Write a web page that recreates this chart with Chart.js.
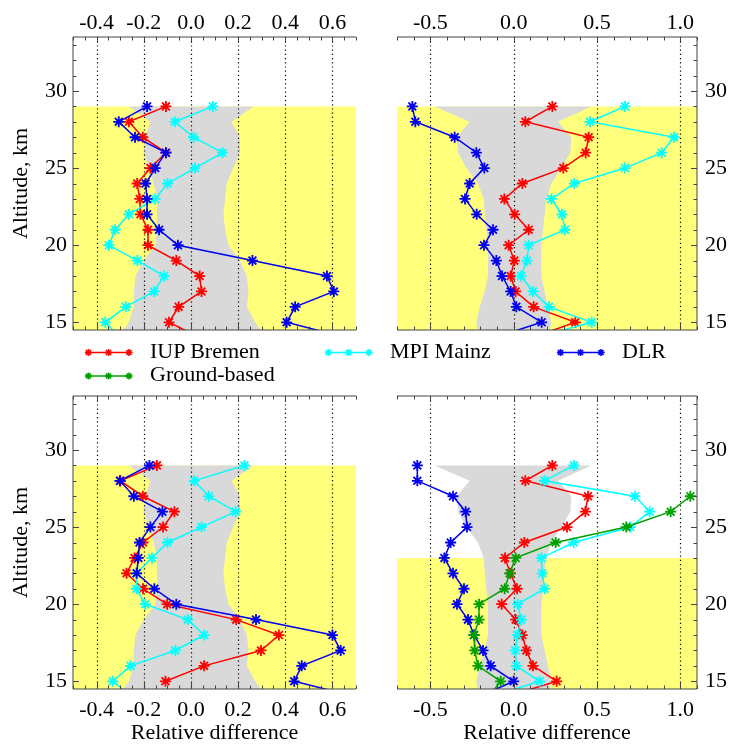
<!DOCTYPE html>
<html>
<head>
<meta charset="utf-8">
<script src="https://cdn.jsdelivr.net/npm/chart.js@4/dist/chart.umd.min.js"></script>
<style>
html, body { margin: 0; padding: 0; background: #fff; overflow: hidden; }
#wrap { position: relative; width: 729px; height: 744px; }
#wrap canvas, #wrap svg { position: absolute; left: 0; top: 0; }
</style>
</head>
<body>
<div id="wrap">
  <canvas id="panelA" width="729" height="744"></canvas>
  <canvas id="panelB" width="729" height="744"></canvas>
  <canvas id="panelC" width="729" height="744"></canvas>
  <canvas id="panelD" width="729" height="744"></canvas>
  <svg id="overlay" width="729" height="744"></svg>
</div>
<script>
// altitude levels (km) of every profile, top to bottom; 14 km lies below the axis and is clipped
const alt = [29, 28, 27, 26, 25, 24, 23, 22, 21, 20, 19, 18, 17, 16, 15, 14];

// tick labels
const yTicks = [15, 20, 25, 30];
const xTicksNarrow = [-0.4, -0.2, 0.0, 0.2, 0.4, 0.6];
const xTicksWide = [-0.5, 0.0, 0.5, 1.0];

// top left
const iupA = [-0.106, -0.263, -0.204, -0.106, -0.172, -0.228, -0.217, -0.214, -0.182, -0.182, -0.062, 0.037, 0.045, -0.052, -0.093, 0.038];
const mpiA = [0.093, -0.068, 0.011, 0.134, 0.017, -0.099, -0.152, -0.263, -0.321, -0.348, -0.227, -0.113, -0.156, -0.276, -0.363, -0.30];
const dlrA = [-0.186, -0.306, -0.237, -0.106, -0.151, -0.192, -0.186, -0.186, -0.135, -0.055, 0.261, 0.577, 0.606, 0.442, 0.406, 0.66];

// top right
const iupB = [0.232, 0.07, 0.45, 0.432, 0.298, 0.052, -0.056, 0.006, 0.09, -0.03, 0.004, -0.018, 0.012, 0.12, 0.37, 0.11];
const mpiB = [0.668, 0.458, 0.962, 0.888, 0.668, 0.364, 0.226, 0.29, 0.308, 0.09, 0.08, 0.044, 0.116, 0.212, 0.468, 0.128];
const dlrB = [-0.608, -0.59, -0.354, -0.224, -0.176, -0.264, -0.292, -0.222, -0.124, -0.178, -0.104, -0.07, -0.018, 0.016, 0.168, -0.118];

// bottom left
const iupC = [-0.144, -0.299, -0.204, -0.07, -0.118, -0.203, -0.239, -0.273, -0.203, -0.101, 0.192, 0.373, 0.297, 0.056, -0.108, null];
const mpiC = [0.227, 0.014, 0.076, 0.19, 0.045, -0.099, -0.165, -0.231, -0.231, -0.194, -0.013, 0.056, -0.066, -0.256, -0.331, -0.252];
const dlrC = [-0.176, -0.301, -0.242, -0.121, -0.172, -0.218, -0.223, -0.23, -0.155, -0.062, 0.276, 0.6, 0.635, 0.47, 0.438, 0.70];

// bottom right
const iupD = [0.232, 0.07, 0.446, 0.43, 0.32, 0.064, -0.052, -0.02, 0.02, -0.072, 0.012, 0.052, 0.076, 0.116, 0.258, -0.046];
const mpiD = [0.362, 0.184, 0.728, 0.816, 0.70, 0.36, 0.166, 0.172, 0.186, 0.024, 0.046, 0.022, 0.01, 0.016, 0.156, -0.14];
const dlrD = [-0.578, -0.578, -0.364, -0.288, -0.28, -0.378, -0.416, -0.364, -0.298, -0.34, -0.274, -0.238, -0.184, -0.138, 0.0, -0.208];
const gbD = [null, null, 1.06, 0.942, 0.676, 0.252, 0.012, -0.024, -0.054, -0.208, -0.208, -0.238, -0.234, -0.214, -0.078, -0.15];

// grey uncertainty band, left and right edge at each altitude
const bandNarrowLo = [-0.263, -0.172, -0.193, -0.2, -0.179, -0.158, -0.144, -0.144, -0.144, -0.15, -0.2, -0.235, -0.242, -0.242, -0.263, -0.31];
const bandNarrowHi = [0.265, 0.173, 0.208, 0.208, 0.18, 0.152, 0.145, 0.138, 0.145, 0.159, 0.208, 0.237, 0.244, 0.237, 0.272, 0.32];
const bandWideLo = [-0.474, -0.264, -0.34, -0.334, -0.284, -0.214, -0.18, -0.174, -0.164, -0.154, -0.154, -0.154, -0.174, -0.204, -0.224, -0.21];
const bandWideHi = [0.466, 0.266, 0.346, 0.34, 0.286, 0.226, 0.196, 0.186, 0.176, 0.166, 0.166, 0.166, 0.186, 0.206, 0.226, 0.21];

// top of the yellow region (km) per panel
const yellowTop = { A: 29, B: 29, C: 29, D: 23 };

const RED = '#ff0000', CYAN = '#00ffff', BLUE = '#0000ee', GREEN = '#00a000';
const YELLOW = '#ffff7c', GREY = '#d9d9d9';

Chart.defaults.font.family = "'Liberation Serif', 'Times New Roman', serif";
Chart.defaults.font.size = 22;
Chart.defaults.color = '#000';

const pts = xs => xs.map((v, i) => ({ x: v, y: alt[i] }));

function bandPts(lo, hi) {
    const left = lo.map((v, i) => ({ x: v, y: alt[i] })).reverse();
    const right = hi.map((v, i) => ({ x: v, y: alt[i] }));
    return left.concat(right);
}

function line(label, data, color) {
    return {
        label, data: pts(data), showLine: true,
        borderColor: color, backgroundColor: color,
        borderWidth: 1.5, pointStyle: 'star', pointRadius: 5.5,
        pointBorderWidth: 1.8, pointBorderColor: color, order: 0
    };
}

// frame, inward ticks and dotted grid (grid goes right above the grey band)
const frame = {
    id: 'frame',
    afterDatasetDraw(chart, args, o) {
        if (!chart.data.datasets[args.index].gridAfter) return;
        const { ctx, chartArea: a, scales: { x } } = chart;
        ctx.save();
        ctx.strokeStyle = '#000';
        ctx.lineWidth = 1.2;
        ctx.setLineDash([1.2, 3]);
        ctx.beginPath();
        o.xTicks.forEach(v => {
            const px = Math.round(x.getPixelForValue(v)) + 0.5;
            ctx.moveTo(px, a.top);
            ctx.lineTo(px, a.bottom);
        });
        ctx.stroke();
        ctx.restore();
    },
    afterDraw(chart, args, o) {
        const { ctx, chartArea: a, scales: { x, y } } = chart;
        ctx.save();
        ctx.strokeStyle = '#444';
        ctx.lineWidth = 1;
        ctx.beginPath();
        ctx.moveTo(a.left, a.top); ctx.lineTo(a.right, a.top);
        ctx.moveTo(a.left, a.bottom); ctx.lineTo(a.right, a.bottom);
        const ex = o.ySide === 'left' ? a.left : a.right;
        ctx.moveTo(ex, a.top); ctx.lineTo(ex, a.bottom);
        for (let k = Math.ceil(x.min / o.minorX - 1e-6); k * o.minorX <= x.max + 1e-6; k++) {
            const v = k * o.minorX;
            const major = o.xTicks.some(t => Math.abs(t - v) < 1e-6);
            const len = major ? 6 : 3.5;
            const px = Math.round(x.getPixelForValue(v)) + 0.5;
            ctx.moveTo(px, a.top); ctx.lineTo(px, a.top + len);
            ctx.moveTo(px, a.bottom); ctx.lineTo(px, a.bottom - len);
        }
        const dir = o.ySide === 'left' ? 1 : -1;
        for (let v = Math.ceil(y.min); v <= y.max; v++) {
            const len = yTicks.includes(v) ? 6 : 3.5;
            const py = Math.round(y.getPixelForValue(v)) + 0.5;
            ctx.moveTo(ex, py); ctx.lineTo(ex + dir * len, py);
        }
        ctx.stroke();
        ctx.restore();
    }
};

function makePanel(id, o) {
    const datasets = o.series.slice();
    datasets.push({
        data: bandPts(o.bandLo, o.bandHi), showLine: true, fill: 'shape',
        backgroundColor: GREY, borderColor: 'rgba(0,0,0,0)', pointRadius: 0,
        order: 1, gridAfter: true
    });
    datasets.push({
        data: [
            { x: o.xMin - 1, y: 14 }, { x: o.xMin - 1, y: o.yellow },
            { x: o.xMax + 1, y: o.yellow }, { x: o.xMax + 1, y: 14 }
        ],
        showLine: true, fill: 'shape', backgroundColor: YELLOW,
        borderColor: 'rgba(0,0,0,0)', pointRadius: 0, order: 2
    });

    new Chart(document.getElementById(id), {
        type: 'scatter',
        data: { datasets },
        options: {
            responsive: false,
            animation: false,
            events: [],
            layout: { padding: o.pad },
            plugins: {
                legend: { display: false },
                tooltip: { enabled: false },
                frame: { xTicks: o.xTicks, minorX: o.minorX, ySide: o.ySide }
            },
            scales: {
                x: {
                    type: 'linear',
                    position: o.top ? 'top' : 'bottom',
                    min: o.xMin, max: o.xMax,
                    afterBuildTicks: s => { s.ticks = o.xTicks.map(v => ({ value: v })); },
                    afterFit: s => { s.height = o.top ? 37 : 55; },
                    grid: { display: false, drawTicks: false },
                    border: { display: false },
                    ticks: {
                        autoSkip: false, maxRotation: 0,
                        padding: o.top ? 1 : 8,
                        callback: v => v.toFixed(1)
                    },
                    title: {
                        display: !o.top, text: 'Relative difference',
                        font: { size: 22, lineHeight: 1.0 }, padding: 0
                    }
                },
                y: {
                    type: 'linear',
                    position: o.ySide,
                    min: 14.5, max: 33.5,
                    afterBuildTicks: s => { s.ticks = yTicks.map(v => ({ value: v })); },
                    afterFit: s => { s.width = o.ySide === 'left' ? 73 : 32; },
                    grid: { display: false, drawTicks: false },
                    border: { display: false },
                    ticks: { autoSkip: false, padding: o.ySide === 'left' ? 6 : 8 }
                }
            }
        },
        plugins: [frame]
    });
}

makePanel('panelA', {
    top: true, ySide: 'left', xMin: -0.5, xMax: 0.7, xTicks: xTicksNarrow, minorX: 0.05,
    pad: { left: 0, top: 0, right: 373, bottom: 414 }, yellow: yellowTop.A,
    bandLo: bandNarrowLo, bandHi: bandNarrowHi,
    series: [line('DLR', dlrA, BLUE), line('MPI Mainz', mpiA, CYAN), line('IUP Bremen', iupA, RED)]
});
makePanel('panelB', {
    top: true, ySide: 'right', xMin: -0.7, xMax: 1.1, xTicks: xTicksWide, minorX: 0.1,
    pad: { left: 397, top: 0, right: 0, bottom: 414 }, yellow: yellowTop.B,
    bandLo: bandWideLo, bandHi: bandWideHi,
    series: [line('DLR', dlrB, BLUE), line('MPI Mainz', mpiB, CYAN), line('IUP Bremen', iupB, RED)]
});
makePanel('panelC', {
    top: false, ySide: 'left', xMin: -0.5, xMax: 0.7, xTicks: xTicksNarrow, minorX: 0.05,
    pad: { left: 0, top: 396, right: 373, bottom: 0 }, yellow: yellowTop.C,
    bandLo: bandNarrowLo, bandHi: bandNarrowHi,
    series: [line('DLR', dlrC, BLUE), line('MPI Mainz', mpiC, CYAN), line('IUP Bremen', iupC, RED)]
});
makePanel('panelD', {
    top: false, ySide: 'right', xMin: -0.7, xMax: 1.1, xTicks: xTicksWide, minorX: 0.1,
    pad: { left: 397, top: 396, right: 0, bottom: 0 }, yellow: yellowTop.D,
    bandLo: bandWideLo, bandHi: bandWideHi,
    series: [line('Ground-based', gbD, GREEN), line('DLR', dlrD, BLUE), line('MPI Mainz', mpiD, CYAN), line('IUP Bremen', iupD, RED)]
});

// legend and y titles as SVG text
const svgNS = 'http://www.w3.org/2000/svg';
const overlay = document.getElementById('overlay');
const FONT = "'Liberation Serif', 'Times New Roman', serif";

function el(name, attrs, text) {
    const e = document.createElementNS(svgNS, name);
    for (const k in attrs) e.setAttribute(k, attrs[k]);
    if (text) e.textContent = text;
    overlay.appendChild(e);
    return e;
}

function star(cx, cy, r, color) {
    const d = r * Math.SQRT1_2;
    el('path', {
        d: `M${cx - r} ${cy}H${cx + r}M${cx} ${cy - r}V${cy + r}` +
           `M${cx - d} ${cy - d}L${cx + d} ${cy + d}M${cx - d} ${cy + d}L${cx + d} ${cy - d}`,
        stroke: color, 'stroke-width': 1.6, fill: 'none'
    });
}

const legendItems = [
    { label: 'IUP Bremen', color: RED, x: 85, y: 352.5 },
    { label: 'MPI Mainz', color: CYAN, x: 325, y: 352.5 },
    { label: 'DLR', color: BLUE, x: 557, y: 352.5 },
    { label: 'Ground-based', color: GREEN, x: 85, y: 376 }
];
legendItems.forEach(it => {
    el('line', { x1: it.x, y1: it.y, x2: it.x + 47, y2: it.y, stroke: it.color, 'stroke-width': 1.5 });
    [3.5, 23.5, 44].forEach(dx => star(it.x + dx, it.y, 3.6, it.color));
    el('text', { x: it.x + 65, y: it.y + 5.4, 'font-family': FONT, 'font-size': 22, fill: '#000' }, it.label);
});

[183.5, 542.5].forEach(cy => {
    el('text', {
        transform: `translate(26.5 ${cy}) rotate(-90)`, 'text-anchor': 'middle',
        'font-family': FONT, 'font-size': 22, fill: '#000'
    }, 'Altitude, km');
});
</script>
</body>
</html>
